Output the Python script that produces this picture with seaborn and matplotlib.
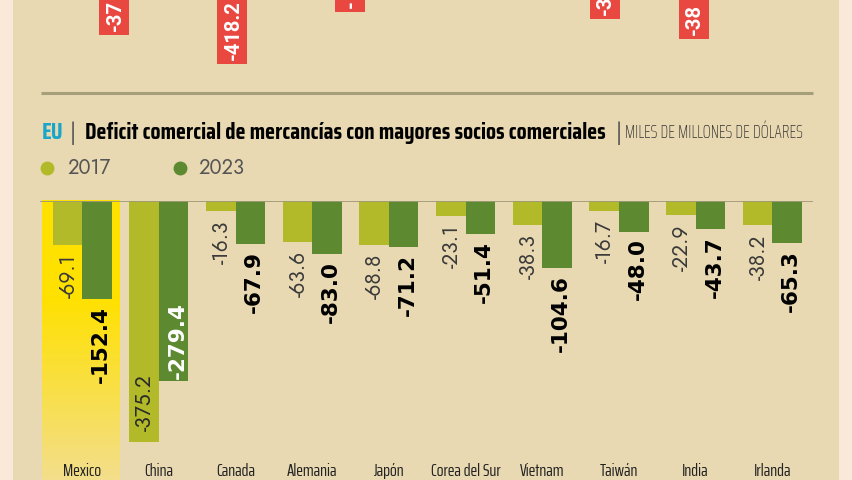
import numpy as np
import pandas as pd
import matplotlib
matplotlib.use("Agg")
import matplotlib.pyplot as plt
import seaborn as sns
from matplotlib.patches import Rectangle
from matplotlib.lines import Line2D

# ---------------- data ----------------
countries = ["Mexico", "China", "Canada", "Alemania", "Japón",
             "Corea del Sur", "Vietnam", "Taiwán", "India", "Irlanda"]
years = ["2017", "2023"]
values_2017 = [-69.1, -375.2, -16.3, -63.6, -68.8, -23.1, -38.3, -16.7, -22.9, -38.2]
values_2023 = [-152.4, -279.4, -67.9, -83.0, -71.2, -51.4, -104.6, -48.0, -43.7, -65.3]
highlight = "Mexico"
title_country = "EU"
title_main = "Deficit comercial de mercancías con mayores socios comerciales"
title_unit = "MILES DE MILLONES DE DÓLARES"
# visible fragments of the labels of the chart above (cropped at the top)
upper_labels = ["-37", "-418.2", "-", "-3", "-38"]

# ---------------- style ----------------
W, H = 853, 480
PINK = "#fae8d8"
BEIGE = "#e8d9b2"
C2017 = "#b2ba2a"
C2023 = "#5d8a30"
RED = "#e8483f"
RULE = "#a59f7a"
CYAN = "#1aa6c8"

sns.set_theme(style="white")
plt.rcParams["font.family"] = ["DejaVu Sans"]

COND = ["Saira ExtraCondensed", "Sofia Sans Extra Condensed", "DejaVu Sans"]
COND_T = ["Saira Condensed", "Saira ExtraCondensed", "DejaVu Sans"]
THIN = ["Jost", "Lato", "DejaVu Sans"]


def fx(x):
    return x / W


def fy(y):
    return 1 - y / H


fig = plt.figure(figsize=(W / 100, H / 100), dpi=100, facecolor=PINK)
fig.patches.append(Rectangle((fx(13), 0), (839 - 13) / W, 1, transform=fig.transFigure,
                             facecolor=BEIGE, edgecolor="none", zorder=-10))

# upper cropped chart fragments
upper_x = [114, 232, 350, 604.5, 693.5]
upper_bottom = [35, 64, 12, 19, 39]
for s, cx, yb in zip(upper_labels, upper_x, upper_bottom):
    fig.patches.append(Rectangle((fx(cx - 15), fy(yb)), 30 / W, yb / H + 0.05,
                                 transform=fig.transFigure, facecolor=RED,
                                 edgecolor="none", zorder=1))
    fig.text(fx(cx + 1), fy(yb - 4), s, rotation=90, ha="center", va="bottom",
             color="white", fontsize=14.5, fontweight="bold", family=["Roboto", "DejaVu Sans"],
             zorder=2)

# top rule
fig.add_artist(Line2D([fx(41), fx(813)], [fy(93), fy(93)], transform=fig.transFigure,
                      color=RULE, lw=2.2, solid_capstyle="butt"))

# ---------------- bars ----------------
df = pd.DataFrame({
    "country": countries * 2,
    "year": [years[0]] * len(countries) + [years[1]] * len(countries),
    "value": values_2017 + values_2023,
})

ax = fig.add_axes([fx(40), fy(455), (813 - 40) / W, (455 - 200.7) / H])
ax.set_facecolor("none")
sns.barplot(data=df, x="country", y="value", hue="year", order=countries, hue_order=years,
            palette=[C2017, C2023], width=0.77, saturation=1, errorbar=None,
            legend=False, ax=ax, zorder=3, linewidth=0, edgecolor="none")
ax.set_xlim(-0.55, 9.53)
ax.set_ylim(-395, 0)

# highlight gradient for Mexico
hi = countries.index(highlight)
ybot = ax.transData.inverted().transform(fig.transFigure.transform((0, 0)))[1]
n = 200
t = np.linspace(0, 1, n)
top = np.array([255, 225, 0]) / 255
bot = np.array([243, 222, 140]) / 255
k = np.clip((t - 0.35) / 0.65, 0, 1)[:, None]
grad = (top * (1 - k) + bot * k)[:, None, :]
ax.imshow(grad, extent=[hi - 0.525, hi + 0.49, ybot, 0], aspect="auto",
          origin="upper", clip_on=False, zorder=1)
ax.set_xlim(-0.55, 9.53)
ax.set_ylim(-395, 0)

ax.axhline(0, color="#9f9a78", lw=1.3, zorder=4)

for sp in ax.spines.values():
    sp.set_visible(False)
ax.set_yticks([])
ax.set_xlabel("")
ax.set_ylabel("")
ax.set_xticks(range(len(countries)))
ax.set_xticklabels(countries, family=COND, fontsize=13, color="#222222", va="baseline")
ax.tick_params(axis="x", length=0, pad=15)
ax.xaxis.set_zorder(6)

INSIDE = 250
for ci, cont in enumerate(ax.containers[:2]):
    for bar in cont:
        v = bar.get_height()
        cx = bar.get_x() + bar.get_width() / 2
        s = f"{v:.1f}"
        if ci == 0:
            kw = dict(family=THIN, fontweight="light", fontsize=15, color="#3a3a3a")
            dx = 1
        else:
            kw = dict(family=["DejaVu Sans"], fontweight="bold", fontsize=15.5, color="black")
            dx = 4
        if abs(v) > INSIDE:
            col = "#2a2a2a" if ci == 0 else "white"
            dy = 11 if ci == 0 else 2
            kw["color"] = col
            ax.annotate(s, (cx, v), xytext=(dx, dy), textcoords="offset pixels",
                        rotation=90, ha="center", va="bottom", zorder=5, **kw)
        else:
            dy = -9 if ci == 0 else -7
            ax.annotate(s, (cx, v), xytext=(dx, dy), textcoords="offset pixels",
                        rotation=90, ha="center", va="top", zorder=5, **kw)

# ---------------- title & legend ----------------
fig.canvas.draw()
r = fig.canvas.get_renderer()
ty = fy(133)
t2 = fig.text(fx(85), ty, title_main, color="black", fontsize=15, fontweight="bold",
              family=COND_T, va="center", ha="left")
w = t2.get_window_extent(r).width
fs = float(np.clip(15 * 523 / w, 12, 20))
t2.set_fontsize(fs)
e = t2.get_window_extent(r)
xend = e.x1
fig.text(fx(42), ty, title_country, color=CYAN, fontsize=fs, fontweight="bold",
         family=COND_T, va="center", ha="left")
fig.text(fx(73), ty, "|", color="#555555", fontsize=16, family=THIN, fontweight="light",
         va="center", ha="center")
fig.text((xend + 13) / W, ty, "|", color="#555555", fontsize=16, family=THIN,
         fontweight="light", va="center", ha="center")
t3 = fig.text((xend + 19) / W, ty, title_unit, color="#333333", fontsize=11,
              family=COND, fontweight="light", va="center", ha="left")
w3 = t3.get_window_extent(r).width
t3.set_fontsize(float(np.clip(11 * 181 / w3, 9, 13.5)))

for yr, col, mx, tx in zip(years, [C2017, C2023], [47, 180], [68, 199]):
    fig.add_artist(Line2D([fx(mx)], [fy(168)], transform=fig.transFigure, marker="o",
                          markersize=9, color=col, linestyle="none"))
    fig.text(fx(tx), fy(168), yr, color="#555555", fontsize=14.5, family=THIN,
             fontweight="light", va="center", ha="left")

fig.savefig("out.png", dpi=100, facecolor=PINK)
